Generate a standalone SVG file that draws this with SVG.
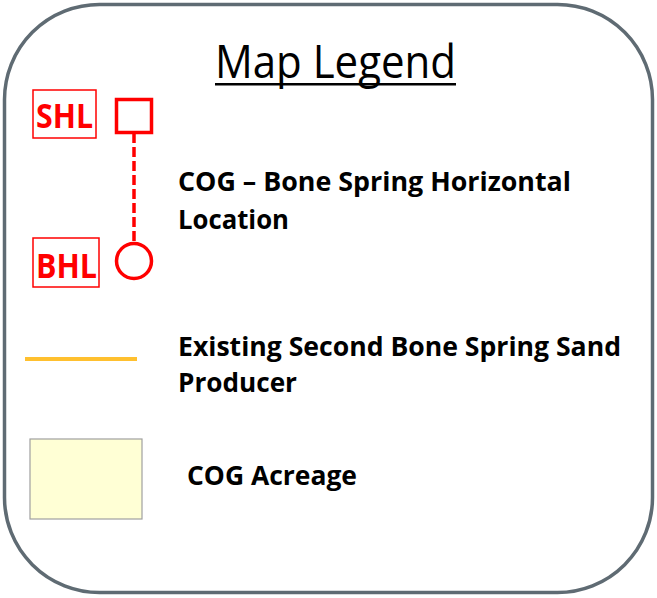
<svg xmlns="http://www.w3.org/2000/svg" width="657" height="598" viewBox="0 0 657 598">
<style>
.lbl{font-family:"Open Sans","Liberation Sans",sans-serif;font-weight:bold;font-size:27px;fill:#000}
.red{font-family:"Open Sans","Liberation Sans",sans-serif;font-weight:bold;font-size:34px;fill:#ff0000}
.rbox{fill:none;stroke:#ff0000;stroke-width:1.5}
.sym{fill:#fff;stroke:#ff0000;stroke-width:3.5}
</style>
<rect x="4.5" y="4.5" width="648" height="588" rx="95" ry="95" fill="#fff" stroke="#5f6b73" stroke-width="3.5"/>
<g id="title">
<text x="215" y="78" font-family="Open Sans, Liberation Sans, sans-serif" font-size="46" fill="#000" textLength="241" lengthAdjust="spacingAndGlyphs">Map Legend</text>
<rect x="215" y="83" width="241" height="2.5" fill="#000"/>
</g>
<g id="connectors">
<line x1="134" y1="133" x2="134" y2="242" stroke="#ff0000" stroke-width="3.5" stroke-dasharray="10,4"/>
</g>
<g id="shl">
<rect class="rbox" x="33" y="90" width="63" height="48"/>
<text class="red" x="36" y="127.5" textLength="57" lengthAdjust="spacingAndGlyphs">SHL</text>
<rect class="sym" x="116.5" y="99.5" width="35" height="33"/>
</g>
<g id="bhl">
<rect class="rbox" x="33" y="238" width="66" height="49"/>
<text class="red" x="36" y="277.5" textLength="61" lengthAdjust="spacingAndGlyphs">BHL</text>
<circle class="sym" cx="134" cy="261" r="17.5"/>
</g>
<g id="horizontal-label">
<text class="lbl" x="178" y="191" textLength="393" lengthAdjust="spacingAndGlyphs">COG – Bone Spring Horizontal</text>
<text class="lbl" x="178" y="229" textLength="111" lengthAdjust="spacingAndGlyphs">Location</text>
</g>
<g id="producer">
<line x1="25" y1="359" x2="137" y2="359" stroke="#ffc02f" stroke-width="4"/>
<text class="lbl" x="178" y="356" textLength="443" lengthAdjust="spacingAndGlyphs">Existing Second Bone Spring Sand</text>
<text class="lbl" x="178" y="392" textLength="119" lengthAdjust="spacingAndGlyphs">Producer</text>
</g>
<g id="acreage">
<rect x="30" y="439" width="112" height="80" fill="#ffffd5" stroke="#a0a0a0" stroke-width="1.2"/>
<text class="lbl" x="187" y="485" textLength="170" lengthAdjust="spacingAndGlyphs">COG Acreage</text>
</g>
</svg>
